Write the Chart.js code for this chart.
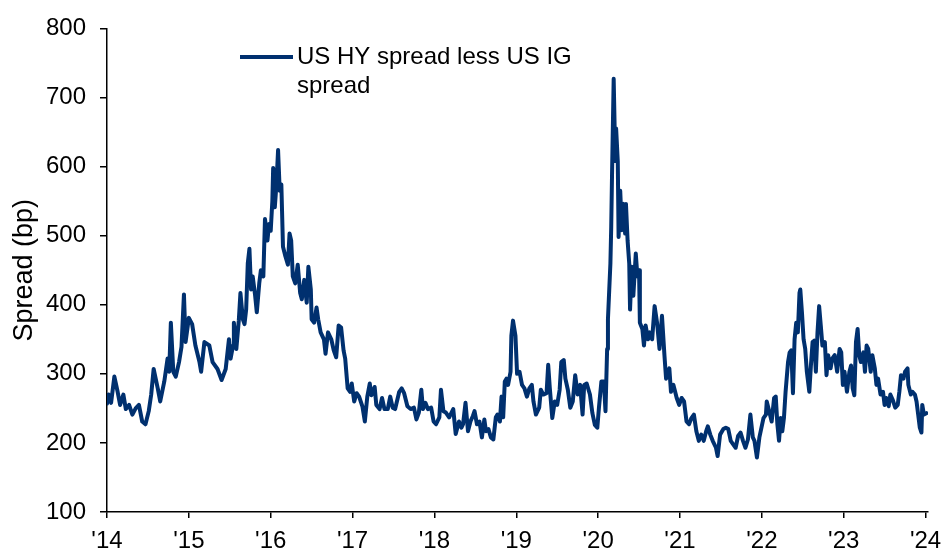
<!DOCTYPE html>
<html>
<head>
<meta charset="utf-8">
<script src="https://cdn.jsdelivr.net/npm/chart.js@4.4.1/dist/chart.umd.min.js"></script>
<style>
  html, body { margin: 0; padding: 0; background: #fff; }
</style>
</head>
<body>
<canvas id="spreadChart" width="941" height="551"></canvas>
<script>
// decimal years
const dates = [
  2014.00, 2014.02, 2014.05, 2014.09, 2014.13, 2014.16, 2014.20, 2014.23, 2014.27, 2014.31,
  2014.35, 2014.39, 2014.43, 2014.47, 2014.51, 2014.54, 2014.57, 2014.62, 2014.65, 2014.70,
  2014.74, 2014.76, 2014.78, 2014.81, 2014.84, 2014.88, 2014.91, 2014.94, 2014.96, 2015.00,
  2015.04, 2015.08, 2015.13, 2015.15, 2015.19, 2015.25, 2015.29, 2015.35, 2015.40, 2015.45,
  2015.49, 2015.51, 2015.54, 2015.55, 2015.58, 2015.61, 2015.63, 2015.66, 2015.68, 2015.70,
  2015.72, 2015.74, 2015.76, 2015.78, 2015.81, 2015.83, 2015.86, 2015.88, 2015.91, 2015.93,
  2015.96, 2015.98, 2016.00, 2016.02, 2016.03, 2016.05, 2016.07, 2016.09, 2016.11, 2016.13,
  2016.15, 2016.18, 2016.21, 2016.23, 2016.25, 2016.27, 2016.30, 2016.33, 2016.36, 2016.38,
  2016.41, 2016.44, 2016.46, 2016.49, 2016.50, 2016.53, 2016.56, 2016.58, 2016.61, 2016.65,
  2016.67, 2016.70, 2016.74, 2016.77, 2016.80, 2016.83, 2016.86, 2016.89, 2016.91, 2016.94,
  2016.97, 2016.99, 2017.02, 2017.05, 2017.08, 2017.12, 2017.15, 2017.18, 2017.21, 2017.23,
  2017.27, 2017.29, 2017.33, 2017.36, 2017.39, 2017.43, 2017.46, 2017.49, 2017.52, 2017.57,
  2017.60, 2017.63, 2017.67, 2017.71, 2017.75, 2017.78, 2017.81, 2017.84, 2017.86, 2017.89,
  2017.92, 2017.96, 2017.99, 2018.02, 2018.06, 2018.08, 2018.11, 2018.14, 2018.18, 2018.23,
  2018.26, 2018.30, 2018.33, 2018.35, 2018.38, 2018.41, 2018.44, 2018.47, 2018.49, 2018.52,
  2018.55, 2018.58, 2018.61, 2018.63, 2018.66, 2018.69, 2018.72, 2018.75, 2018.77, 2018.80,
  2018.82, 2018.84, 2018.86, 2018.88, 2018.90, 2018.93, 2018.94, 2018.96, 2018.99, 2019.01,
  2019.04, 2019.07, 2019.10, 2019.13, 2019.16, 2019.19, 2019.21, 2019.24, 2019.28, 2019.30,
  2019.33, 2019.37, 2019.39, 2019.41, 2019.44, 2019.47, 2019.50, 2019.53, 2019.55, 2019.58,
  2019.60, 2019.63, 2019.66, 2019.69, 2019.72, 2019.75, 2019.78, 2019.81, 2019.83, 2019.86,
  2019.90, 2019.93, 2019.96, 2019.99, 2020.01, 2020.04, 2020.07, 2020.09, 2020.11, 2020.12,
  2020.15, 2020.16, 2020.17, 2020.19, 2020.21, 2020.22, 2020.24, 2020.25, 2020.27, 2020.29,
  2020.31, 2020.33, 2020.34, 2020.36, 2020.38, 2020.39, 2020.41, 2020.43, 2020.46, 2020.48,
  2020.50, 2020.51, 2020.54, 2020.56, 2020.58, 2020.61, 2020.63, 2020.66, 2020.69, 2020.72,
  2020.75, 2020.78, 2020.81, 2020.83, 2020.87, 2020.89, 2020.92, 2020.96, 2020.99, 2021.02,
  2021.05, 2021.08, 2021.11, 2021.14, 2021.17, 2021.20, 2021.23, 2021.26, 2021.29, 2021.32,
  2021.34, 2021.37, 2021.40, 2021.44, 2021.46, 2021.49, 2021.53, 2021.56, 2021.59, 2021.62,
  2021.65, 2021.68, 2021.71, 2021.74, 2021.77, 2021.80, 2021.83, 2021.86, 2021.89, 2021.91,
  2021.94, 2021.97, 2022.02, 2022.05, 2022.06, 2022.09, 2022.12, 2022.15, 2022.17, 2022.19,
  2022.21, 2022.23, 2022.25, 2022.27, 2022.29, 2022.32, 2022.34, 2022.36, 2022.38, 2022.40,
  2022.42, 2022.44, 2022.46, 2022.47, 2022.49, 2022.51, 2022.53, 2022.55, 2022.58, 2022.60,
  2022.62, 2022.64, 2022.66, 2022.68, 2022.70, 2022.72, 2022.74, 2022.77, 2022.79, 2022.81,
  2022.84, 2022.86, 2022.89, 2022.92, 2022.95, 2022.97, 2022.99, 2023.01, 2023.04, 2023.07,
  2023.09, 2023.11, 2023.13, 2023.15, 2023.17, 2023.19, 2023.21, 2023.24, 2023.26, 2023.28,
  2023.30, 2023.33, 2023.35, 2023.38, 2023.40, 2023.42, 2023.45, 2023.48, 2023.50, 2023.52,
  2023.55, 2023.57, 2023.60, 2023.63, 2023.66, 2023.68, 2023.70, 2023.73, 2023.75, 2023.78,
  2023.79, 2023.82, 2023.84, 2023.87, 2023.89, 2023.91, 2023.93, 2023.95, 2023.96, 2023.98,
  2024.01
];

// US HY spread less US IG spread, bp
const spreads = [
  257, 270, 258, 296, 274, 255, 270, 249, 255, 241,
  250, 255, 231, 227, 246, 270, 307, 279, 260, 289,
  322, 303, 374, 303, 296, 317, 339, 415, 346, 381,
  372, 341, 317, 303, 346, 341, 317, 307, 291, 307,
  350, 322, 341, 374, 336, 377, 417, 379, 372, 393,
  460, 481, 422, 441, 413, 389, 431, 450, 441, 524,
  493, 517, 507, 550, 598, 541, 574, 624, 565, 574,
  484, 470, 458, 503, 493, 441, 431, 458, 417, 408,
  436, 403, 455, 422, 379, 374, 396, 379, 360, 350,
  329, 360, 350, 334, 324, 370, 367, 334, 322, 279,
  274, 286, 260, 272, 267, 253, 231, 267, 286, 269,
  281, 255, 249, 265, 249, 249, 267, 251, 249, 274,
  279, 272, 253, 249, 251, 234, 244, 277, 249, 258,
  249, 251, 231, 227, 237, 277, 246, 244, 237, 249,
  213, 231, 222, 227, 258, 217, 231, 239, 246, 227,
  231, 208, 234, 217, 220, 208, 205, 237, 241, 231,
  267, 237, 289, 293, 284, 303, 355, 377, 355, 300,
  303, 284, 279, 267, 279, 284, 260, 241, 251, 277,
  270, 272, 313, 279, 236, 260, 255, 277, 317, 320,
  293, 277, 251, 260, 298, 270, 284, 241, 284, 286,
  270, 243, 226, 222, 251, 289, 289, 246, 336, 379,
  460, 513, 589, 727, 608, 655, 608, 498, 565, 508,
  546, 503, 546, 493, 460, 393, 455, 413, 474, 441,
  450, 374, 365, 341, 370, 350, 360, 350, 398, 374,
  336, 384, 327, 293, 308, 274, 284, 265, 255, 265,
  260, 231, 227, 236, 241, 217, 203, 212, 203, 217,
  224, 212, 203, 193, 181, 212, 220, 222, 220, 203,
  198, 193, 210, 215, 203, 193, 205, 241, 208, 203,
  179, 208, 236, 241, 260, 246, 231, 265, 267, 227,
  203, 236, 217, 236, 274, 317, 331, 334, 272, 350,
  374, 360, 417, 422, 389, 350, 336, 303, 274, 313,
  346, 348, 303, 360, 398, 370, 341, 346, 298, 327,
  308, 322, 327, 303, 336, 331, 284, 303, 274, 303,
  312, 279, 269, 346, 365, 327, 317, 331, 303, 341,
  336, 303, 327, 308, 284, 293, 270, 274, 255, 265,
  253, 270, 262, 251, 255, 274, 298, 293, 303, 308,
  284, 270, 274, 270, 260, 241, 222, 215, 255, 241,
  243
];

const yearTicks = [2014, 2015, 2016, 2017, 2018, 2019, 2020, 2021, 2022, 2023, 2024];
const yearLabels = ["'14", "'15", "'16", "'17", "'18", "'19", "'20", "'21", "'22", "'23", "'24"];
const legendLines = ['US HY spread less US IG', 'spread'];

const lineColor = '#00306f';
const fontFamily = '"Liberation Sans", Arial, sans-serif';

// legend sits inside the plot, text wraps onto two lines
const legendPlugin = {
  id: 'wrappedLegend',
  afterDraw(chart) {
    const c = chart.ctx;
    c.save();
    c.strokeStyle = lineColor;
    c.lineWidth = 4;
    c.beginPath();
    c.moveTo(240, 57);
    c.lineTo(293, 57);
    c.stroke();
    c.fillStyle = '#000';
    c.font = '24px ' + fontFamily;
    c.textBaseline = 'middle';
    c.textAlign = 'left';
    c.fillText(legendLines[0], 297, 57);
    c.fillText(legendLines[1], 297, 86);
    c.restore();
  }
};

const ctx = document.getElementById('spreadChart').getContext('2d');
const spreadChart = new Chart(ctx, {
  type: 'line',
  data: {
    datasets: [{
      label: legendLines.join(' '),
      data: dates.map((d, i) => ({ x: d, y: spreads[i] })),
      borderColor: lineColor,
      borderWidth: 4,
      pointRadius: 0,
      tension: 0,
      borderJoinStyle: 'round',
      borderCapStyle: 'round',
      fill: false
    }]
  },
  options: {
    responsive: false,
    animation: false,
    devicePixelRatio: 1,
    layout: { padding: { left: 0, right: 13, top: 22, bottom: 0 } },
    plugins: {
      legend: { display: false },
      tooltip: { enabled: false }
    },
    scales: {
      x: {
        type: 'linear',
        min: 2014,
        max: 2024.03,
        afterBuildTicks: scale => { scale.ticks = yearTicks.map(v => ({ value: v })); },
        afterFit: scale => { scale.height = 39; scale.paddingLeft = 0; scale.paddingRight = 0; },
        ticks: {
          autoSkip: false,
          maxRotation: 0,
          padding: 9,
          color: '#000',
          font: { family: fontFamily, size: 24 },
          callback: (v, i) => yearLabels[i]
        },
        grid: { drawOnChartArea: false, drawTicks: true, tickLength: 6, color: '#000', lineWidth: 1.5 },
        border: { display: true, color: '#000', width: 1.5 }
      },
      y: {
        min: 100,
        max: 800,
        afterFit: scale => { scale.width = 107; },
        ticks: {
          stepSize: 100,
          padding: 14,
          color: '#000',
          font: { family: fontFamily, size: 24 }
        },
        title: {
          display: true,
          text: 'Spread (bp)',
          color: '#000',
          font: { family: fontFamily, size: 27 },
          padding: { top: 8, bottom: 0 }
        },
        grid: { drawOnChartArea: false, drawTicks: true, tickLength: 7, color: '#000', lineWidth: 1.5 },
        border: { display: true, color: '#000', width: 1.5 }
      }
    }
  },
  plugins: [legendPlugin]
});
</script>
</body>
</html>
